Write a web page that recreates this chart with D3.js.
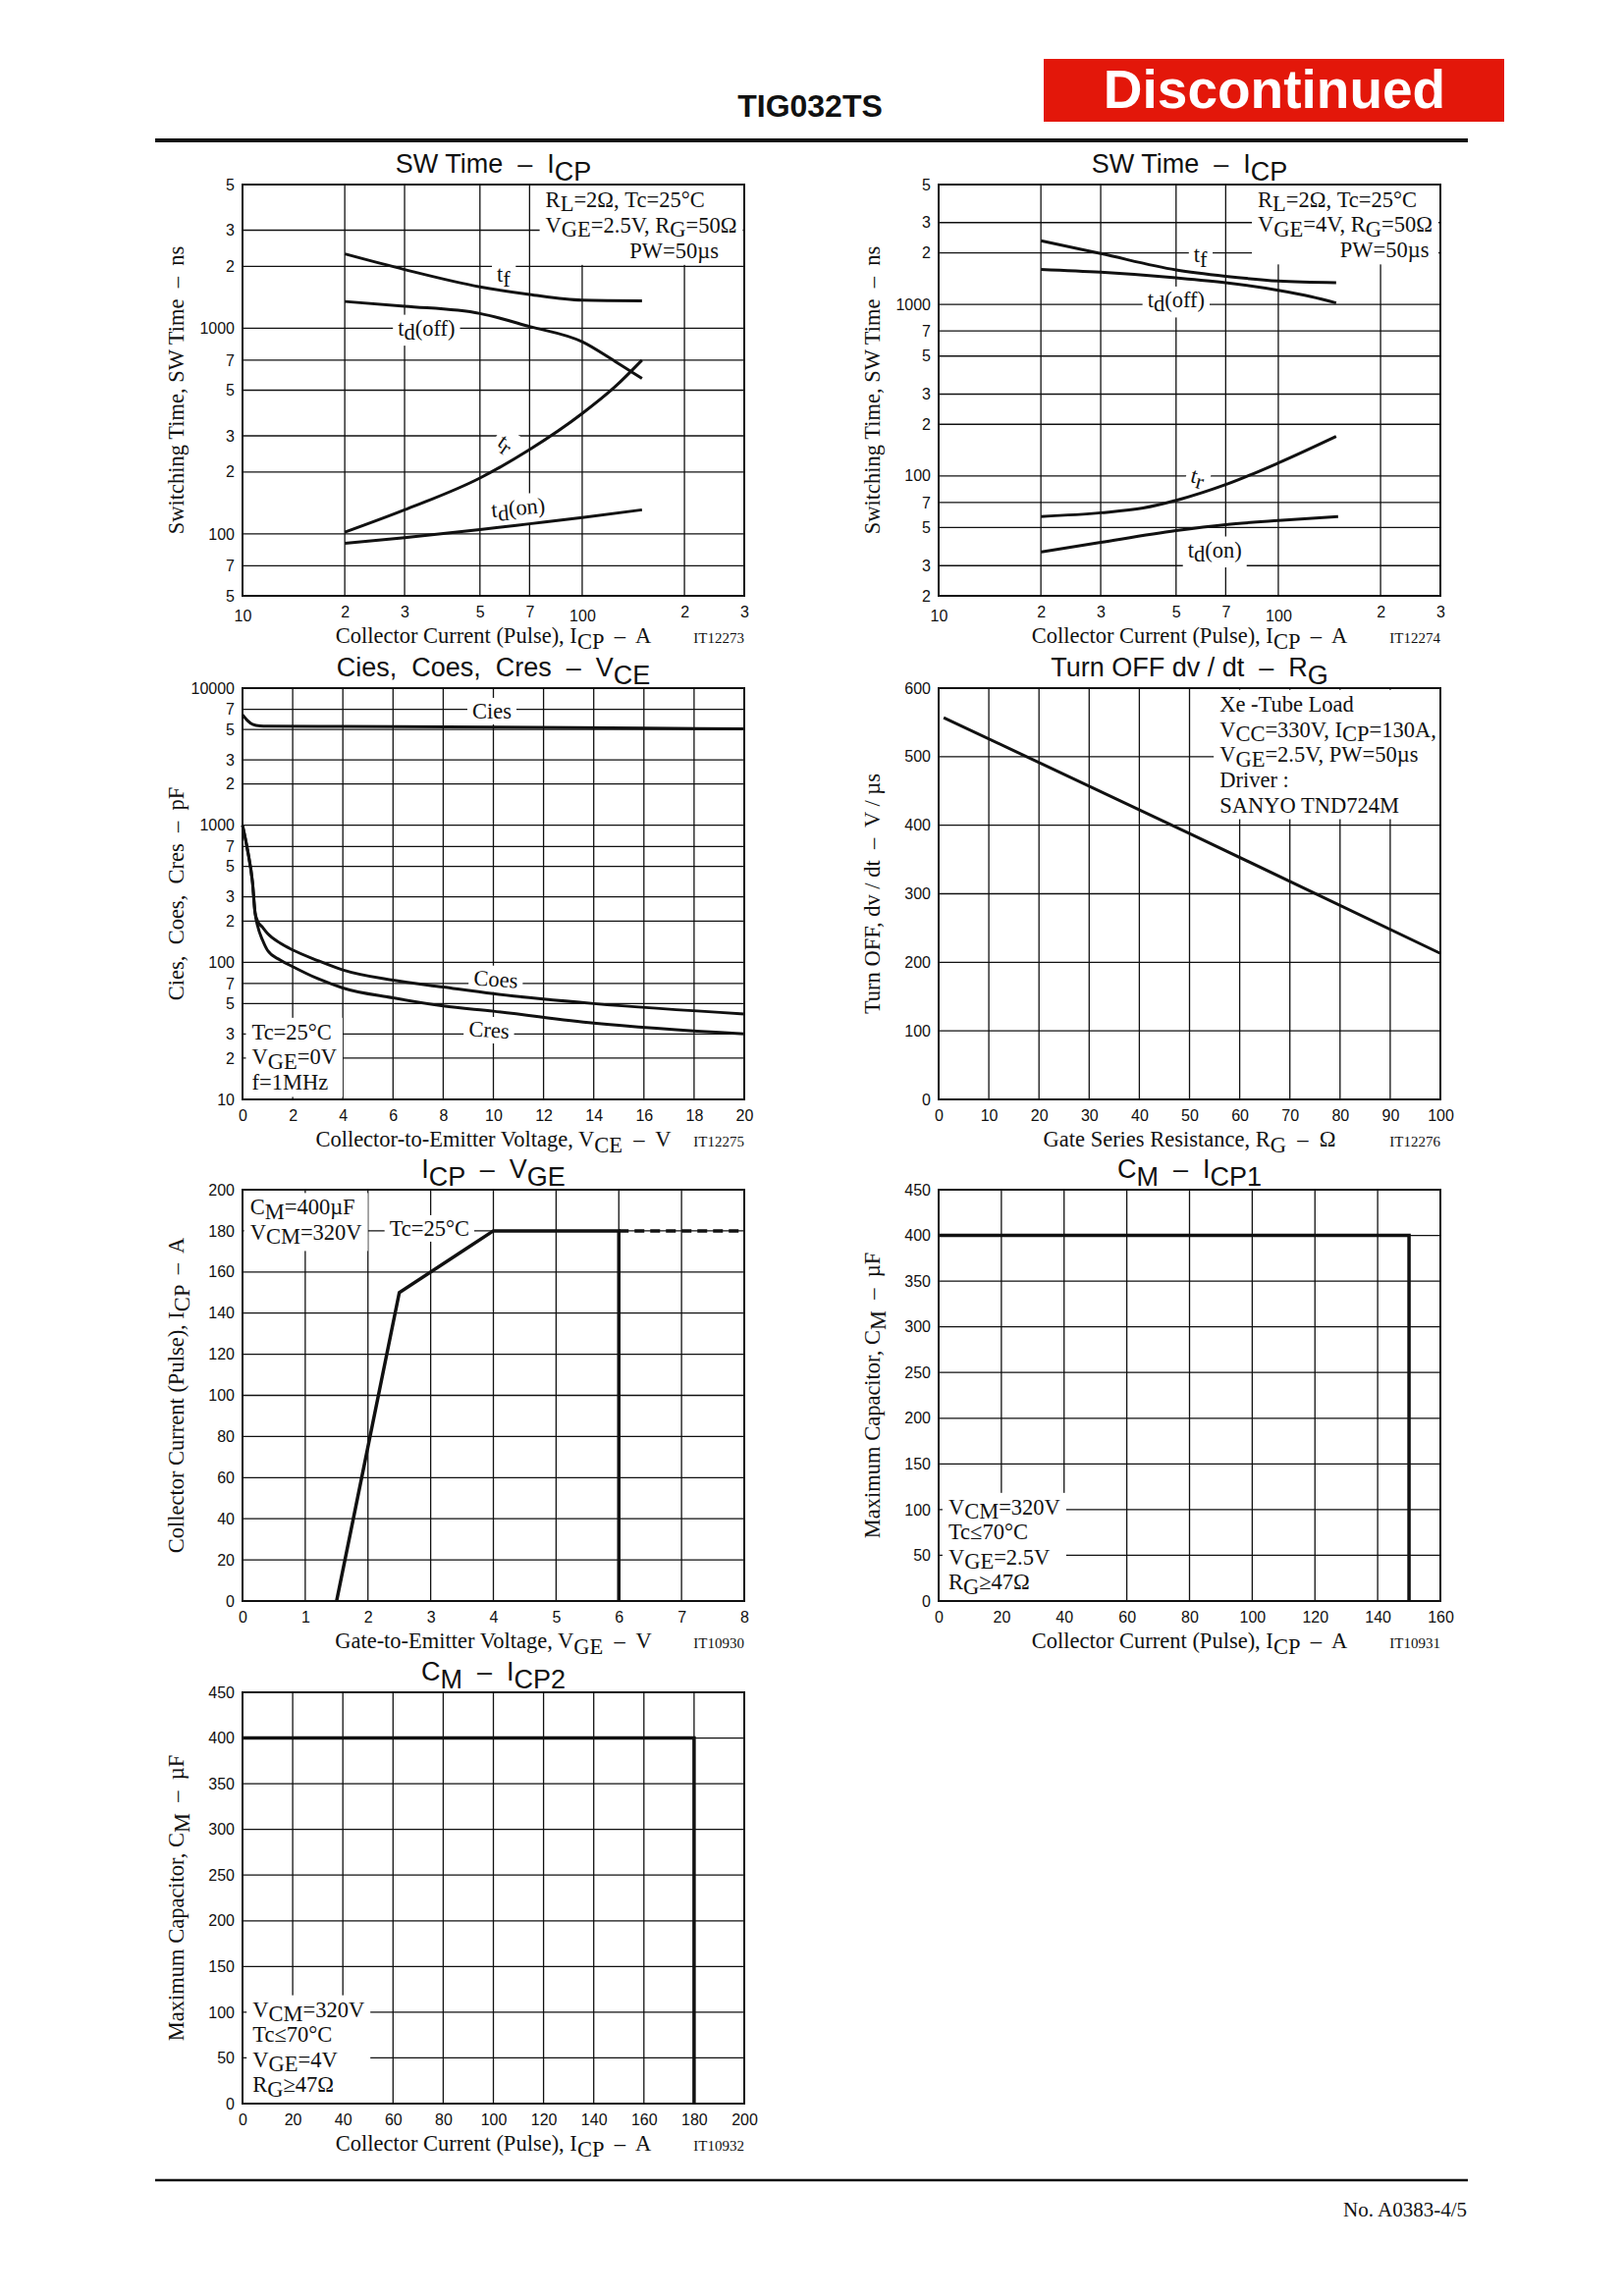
<!DOCTYPE html>
<html><head><meta charset="utf-8">
<script src="https://cdn.jsdelivr.net/npm/d3@7"></script>
<style>
body{margin:0;background:#fff;}
svg text{white-space:pre;}
</style></head><body>
<svg id="page" width="1653" height="2339" xmlns="http://www.w3.org/2000/svg"></svg>
<script>
// ---------------- DATA ----------------
// Chart 1: SW Time - ICP (VGE=2.5V)
const sw1_tf    = [[20,2300],[30,1930],[50,1590],[70,1460],[100,1370],[150,1360]];
const sw1_tdoff = [[20,1350],[30,1280],[50,1180],[70,1020],[100,860],[125,690],[150,570]];
const sw1_tr    = [[20,102],[30,131],[50,187],[70,257],[100,385],[125,520],[150,700]];
const sw1_tdon  = [[20,90],[30,96],[50,105],[70,112],[100,120],[150,131]];
// Chart 2: SW Time - ICP (VGE=4V)
const sw2_tf    = [[20,2350],[30,1980],[50,1590],[70,1460],[100,1370],[148,1340]];
const sw2_tdoff = [[20,1600],[30,1540],[50,1430],[70,1340],[100,1210],[125,1110],[148,1020]];
const sw2_tr    = [[20,58],[30,61],[40,65],[50,72],[70,89],[100,119],[148,170]];
const sw2_tdon  = [[20,36],[30,41],[50,48],[70,52],[100,55],[150,58]];
// Chart 3: Cies, Coes, Cres - VCE
const cies = [[0,6400],[0.2,5800],[0.4,5450],[0.7,5300],[1,5280],[4,5250],[10,5200],[16,5100],[20,5050]];
const coes = [[0,1000],[0.2,660],[0.4,380],[0.5,230],[0.6,200],[0.8,180],[1,162],[1.5,138],[2,123],[3,103],[4,88],[6,74],[8,66],[10,59],[14,50],[20,42]];
const cres = [[0,1000],[0.2,660],[0.4,380],[0.5,230],[0.6,185],[0.8,145],[1,122],[1.5,104],[2,93],[3,76],[4,65],[6,55],[8,48],[10,44],[14,36],[20,30]];
// Chart 4: Turn OFF dv/dt - RG
const dvdt = [[1,557],[50,388],[100,213]];
// Chart 5: ICP - VGE
const icpVge = [[1.5,0],[2.5,150],[4,180],[6,180],[6,0]];
const icpVgeDash = [[6,180],[8,180]];
// Chart 6 / 7: CM - ICP
const cmIcp1 = [[0,400],[150,400],[150,0]];
const cmIcp2 = [[0,400],[180,400],[180,0]];

// tick values / labels
const swXTicks = [10,20,30,50,70,100,200,300];
const swXLabels = ["10","2","3","5","7","100","2","3"];
const sw1YTicks = [5000,3000,2000,1000,700,500,300,200,100,70,50];
const sw1YLabels = ["5","3","2","1000","7","5","3","2","100","7","5"];
const sw2YTicks = [5000,3000,2000,1000,700,500,300,200,100,70,50,30,20];
const sw2YLabels = ["5","3","2","1000","7","5","3","2","100","7","5","3","2"];
const capXTicks = [0,2,4,6,8,10,12,14,16,18,20];
const capYTicks = [10000,7000,5000,3000,2000,1000,700,500,300,200,100,70,50,30,20,10];
const capYLabels = ["10000","7","5","3","2","1000","7","5","3","2","100","7","5","3","2","10"];
const dvXTicks = [0,10,20,30,40,50,60,70,80,90,100];
const dvYTicks = [0,100,200,300,400,500,600];
const vgeXTicks = [0,1,2,3,4,5,6,7,8];
const vgeYTicks = [0,20,40,60,80,100,120,140,160,180,200];
const cm1XTicks = [0,20,40,60,80,100,120,140,160];
const cm2XTicks = [0,20,40,60,80,100,120,140,160,180,200];
const cmYTicks = [0,50,100,150,200,250,300,350,400,450];

// ---------------- DRAWING ----------------
const svg = d3.select('#page');
const W = 511, H = 419;
const SANS = '"Liberation Sans", Arial, sans-serif';
const SERIF = '"Liberation Serif", "Times New Roman", serif';
const INK = '#111';

function rich(t, str, shift){
  const sh = shift || 0.25;
  const re = /_\{([^}]*)\}/g; let last = 0, m; const parts = [];
  while((m = re.exec(str))){ if(m.index > last) parts.push([str.slice(last, m.index), false]); parts.push([m[1], true]); last = re.lastIndex; }
  if(last < str.length) parts.push([str.slice(last), false]);
  let shifted = false;
  parts.forEach(([s, sub]) => {
    const ts = t.append('tspan').text(s);
    if(sub && !shifted){ ts.attr('dy', sh + 'em'); shifted = true; }
    else if(!sub && shifted){ ts.attr('dy', -sh + 'em'); shifted = false; }
  });
  return t;
}

// header
svg.append('text').attr('x',825).attr('y',119).attr('text-anchor','middle')
  .style('font',`bold 32px ${SANS}`).attr('fill',INK).text('TIG032TS');
svg.append('rect').attr('x',1063).attr('y',60).attr('width',469).attr('height',64).attr('fill','#e3170a');
svg.append('text').attr('x',1298).attr('y',110).attr('text-anchor','middle').attr('fill','#fff')
  .style('font',`bold 55px ${SANS}`).text('Discontinued');
svg.append('line').attr('x1',158).attr('x2',1495).attr('y1',143).attr('y2',143).attr('stroke',INK).attr('stroke-width',4);
// footer
svg.append('line').attr('x1',158).attr('x2',1495).attr('y1',2221).attr('y2',2221).attr('stroke',INK).attr('stroke-width',2.5);
svg.append('text').attr('x',1494).attr('y',2258).attr('text-anchor','end')
  .style('font',`21px ${SERIF}`).attr('fill',INK).text('No. A0383-4/5');

function chart(o){
  const g = svg.append('g');
  const L = o.left, T = o.top;
  const x = (o.xlog ? d3.scaleLog() : d3.scaleLinear()).domain(o.xd).range([L, L+W]);
  const y = (o.ylog ? d3.scaleLog() : d3.scaleLinear()).domain(o.yd).range([T+H, T]);
  const gGrid = g.append('g'), gBg = g.append('g'), gCurve = g.append('g'), gText = g.append('g'), gFrame = g.append('g');

  const xgrid = o.xticks.filter(d => d !== o.xd[0] && d !== o.xd[1]);
  const ygrid = o.yticks.filter(d => d !== o.yd[0] && d !== o.yd[1]);
  gGrid.selectAll('line.v').data(xgrid).join('line').attr('class','v')
    .attr('x1', d => x(d)).attr('x2', d => x(d)).attr('y1', T).attr('y2', T+H)
    .attr('stroke', INK).attr('stroke-width', 1.3);
  gGrid.selectAll('line.h').data(ygrid).join('line').attr('class','h')
    .attr('y1', d => y(d)).attr('y2', d => y(d)).attr('x1', L).attr('x2', L+W)
    .attr('stroke', INK).attr('stroke-width', 1.3);

  // axes
  const xl = o.xlab || o.xticks.map(String);
  const ax = d3.axisBottom(x).tickValues(o.xticks).tickFormat((d,i) => xl[i]).tickSize(0);
  const axg = g.append('g').attr('transform', `translate(0,${T+H})`).call(ax);
  axg.select('.domain').remove();
  axg.selectAll('text').attr('y', (d,i) => (o.xlog && xl[i].length > 1) ? 15 : 11).attr('dy','0.71em')
    .style('font', `16px ${SANS}`).attr('fill', INK);
  const yl = o.ylab || o.yticks.map(String);
  const ay = d3.axisLeft(y).tickValues(o.yticks).tickFormat((d,i) => yl[i]).tickSize(0).tickPadding(8);
  const ayg = g.append('g').attr('transform', `translate(${L},0)`).call(ay);
  ayg.select('.domain').remove();
  ayg.selectAll('text').style('font', `16px ${SANS}`).attr('fill', INK);

  // curves
  o.series.forEach(s => {
    gCurve.append('path').datum(s.data)
      .attr('d', d3.line().x(d => x(d[0])).y(d => y(d[1])).curve(s.curve || d3.curveMonotoneX))
      .attr('fill','none').attr('stroke', INK).attr('stroke-width', s.w || 3)
      .attr('stroke-linejoin','miter').attr('stroke-dasharray', s.dash || null);
  });

  // notes with white background; notes flagged as block share one background box
  const block = [];
  (o.notes || []).forEach(n => {
    const px = x(n.x), py = y(n.y);
    const tr = `translate(${px},${py}) rotate(${n.rot || 0})`;
    const t = gText.append('text').attr('transform', tr).attr('text-anchor', n.a || 'start')
      .style('font', `${n.size || 22.5}px ${SERIF}`).attr('fill', INK);
    if(n.mid) t.attr('dy','0.32em');
    rich(t, n.t, 0.2);
    const bb = t.node().getBBox();
    const pad = n.pad == null ? 5 : n.pad;
    if(n.b){
      block.push([px + bb.x, py + bb.y, px + bb.x + bb.width, py + bb.y + bb.height]);
    } else {
      gBg.append('rect').attr('transform', tr).attr('x', bb.x - pad).attr('y', bb.y - 1)
        .attr('width', bb.width + 2*pad).attr('height', bb.height + 2).attr('fill','#fff');
    }
  });
  if(block.length){
    const x0 = d3.min(block, d => d[0]) - 6, y0 = d3.min(block, d => d[1]) - 2;
    const x1 = d3.max(block, d => d[2]) + 6, y1 = d3.max(block, d => d[3]) + 2;
    gBg.append('rect').attr('x', x0).attr('y', y0).attr('width', x1 - x0).attr('height', y1 - y0).attr('fill','#fff');
  }

  gFrame.append('rect').attr('x', L).attr('y', T).attr('width', W).attr('height', H)
    .attr('fill','none').attr('stroke', INK).attr('stroke-width', 2);

  // titles and labels
  rich(g.append('text').attr('x', L + W/2).attr('y', T - 12).attr('text-anchor','middle')
    .style('font', `27px ${SANS}`).attr('fill', INK), o.title, 0.28);
  rich(g.append('text').attr('x', L + W/2).attr('y', T + H + 48).attr('text-anchor','middle')
    .style('font', `22.5px ${SERIF}`).attr('fill', INK), o.xtitle, 0.28);
  g.append('text').attr('x', L + W).attr('y', T + H + 48).attr('text-anchor','end')
    .style('font', `15px ${SERIF}`).attr('fill', INK).text(o.code);
  rich(g.append('text').attr('transform', `translate(${L - 68},${T + H/2}) rotate(-90)`).attr('dy','0.35em')
    .attr('text-anchor','middle').style('font', `22.5px ${SERIF}`).attr('fill', INK), o.ytitle, 0.28);
}

const LC = 247, RC = 956;
const R1 = 188, R2 = 701, R3 = 1212, R4 = 1724;

chart({left:LC, top:R1, xlog:true, ylog:true, xd:[10,300], yd:[50,5000],
  xticks:swXTicks, xlab:swXLabels, yticks:sw1YTicks, ylab:sw1YLabels,
  title:'SW Time  –  I_{CP}', xtitle:'Collector Current (Pulse), I_{CP}  –  A', ytitle:'Switching Time, SW Time  –  ns', code:'IT12273',
  series:[{data:sw1_tf},{data:sw1_tdoff},{data:sw1_tr},{data:sw1_tdon}],
  notes:[
    {x:78,y:3900,t:'R_{L}=2Ω, Tc=25°C',b:1},
    {x:78,y:2930,t:'V_{GE}=2.5V, R_{G}=50Ω',b:1},
    {x:138,y:2196,t:'PW=50µs',b:1},
    {x:58.7,y:1820,t:'t_{f}',a:'middle',mid:1},
    {x:34.8,y:1000,t:'t_{d}(off)',a:'middle',mid:1},
    {x:59.6,y:277,t:'t_{r}',a:'middle',mid:1,rot:35},
    {x:64.8,y:134,t:'t_{d}(on)',a:'middle',mid:1,rot:-5}
  ]});

chart({left:RC, top:R1, xlog:true, ylog:true, xd:[10,300], yd:[20,5000],
  xticks:swXTicks, xlab:swXLabels, yticks:sw2YTicks, ylab:sw2YLabels,
  title:'SW Time  –  I_{CP}', xtitle:'Collector Current (Pulse), I_{CP}  –  A', ytitle:'Switching Time, SW Time  –  ns', code:'IT12274',
  series:[{data:sw2_tf},{data:sw2_tdoff},{data:sw2_tr},{data:sw2_tdon}],
  notes:[
    {x:87,y:3705,t:'R_{L}=2Ω, Tc=25°C',b:1},
    {x:87,y:2650,t:'V_{GE}=4V, R_{G}=50Ω',b:1},
    {x:152,y:1877,t:'PW=50µs',b:1},
    {x:59,y:1937,t:'t_{f}',a:'middle',mid:1},
    {x:50,y:1060,t:'t_{d}(off)',a:'middle',mid:1},
    {x:58,y:99,t:'t_{r}',a:'middle',mid:1,rot:15},
    {x:65,y:37,t:'t_{d}(on)',a:'middle',mid:1}
  ]});

chart({left:LC, top:R2, xlog:false, ylog:true, xd:[0,20], yd:[10,10000],
  xticks:capXTicks, yticks:capYTicks, ylab:capYLabels,
  title:'Cies,  Coes,  Cres  –  V_{CE}', xtitle:'Collector-to-Emitter Voltage, V_{CE}  –  V', ytitle:'Cies,  Coes,  Cres  –  pF', code:'IT12275',
  series:[{data:cies},{data:coes},{data:cres}],
  notes:[
    {x:9.94,y:6760,t:'Cies',a:'middle',mid:1},
    {x:10.1,y:75,t:'Coes',a:'middle',mid:1,rot:4},
    {x:9.83,y:32,t:'Cres',a:'middle',mid:1,rot:4},
    {x:0.37,y:27.4,t:'Tc=25°C',b:1},
    {x:0.37,y:18,t:'V_{GE}=0V',b:1},
    {x:0.37,y:11.7,t:'f=1MHz',b:1}
  ]});

chart({left:RC, top:R2, xlog:false, ylog:false, xd:[0,100], yd:[0,600],
  xticks:dvXTicks, yticks:dvYTicks,
  title:'Turn OFF dv / dt  –  R_{G}', xtitle:'Gate Series Resistance, R_{G}  –  Ω', ytitle:'Turn OFF, dv / dt  –  V / µs', code:'IT12276',
  series:[{data:dvdt, curve:d3.curveLinear}],
  notes:[
    {x:56,y:566,t:'Xe -Tube Load',b:1},
    {x:56,y:528.6,t:'V_{CC}=330V, I_{CP}=130A,',b:1},
    {x:56,y:492.6,t:'V_{GE}=2.5V, PW=50µs',b:1},
    {x:56,y:455.7,t:'Driver :',b:1},
    {x:56,y:418.8,t:'SANYO TND724M',b:1}
  ]});

chart({left:LC, top:R3, xlog:false, ylog:false, xd:[0,8], yd:[0,200],
  xticks:vgeXTicks, yticks:vgeYTicks,
  title:'I_{CP}  –  V_{GE}', xtitle:'Gate-to-Emitter Voltage, V_{GE}  –  V', ytitle:'Collector Current (Pulse), I_{CP}  –  A', code:'IT10930',
  series:[{data:icpVge, curve:d3.curveLinear, w:3.5},{data:icpVgeDash, curve:d3.curveLinear, w:3.5, dash:'10,6'}],
  notes:[
    {x:0.12,y:187.9,t:'C_{M}=400µF',b:1},
    {x:0.12,y:175.7,t:'V_{CM}=320V',b:1},
    {x:2.98,y:177.6,t:'Tc=25°C',a:'middle'}
  ]});

chart({left:RC, top:R3, xlog:false, ylog:false, xd:[0,160], yd:[0,450],
  xticks:cm1XTicks, yticks:cmYTicks,
  title:'C_{M}  –  I_{CP1}', xtitle:'Collector Current (Pulse), I_{CP}  –  A', ytitle:'Maximum Capacitor, C_{M}  –  µF', code:'IT10931',
  series:[{data:cmIcp1, curve:d3.curveLinear, w:3.5}],
  notes:[
    {x:3.1,y:94.7,t:'V_{CM}=320V',b:1},
    {x:3.1,y:67.4,t:'Tc≤70°C',b:1},
    {x:3.1,y:40,t:'V_{GE}=2.5V',b:1},
    {x:3.1,y:12.8,t:'R_{G}≥47Ω',b:1}
  ]});

chart({left:LC, top:R4, xlog:false, ylog:false, xd:[0,200], yd:[0,450],
  xticks:cm2XTicks, yticks:cmYTicks,
  title:'C_{M}  –  I_{CP2}', xtitle:'Collector Current (Pulse), I_{CP}  –  A', ytitle:'Maximum Capacitor, C_{M}  –  µF', code:'IT10932',
  series:[{data:cmIcp2, curve:d3.curveLinear, w:3.5}],
  notes:[
    {x:4,y:94.9,t:'V_{CM}=320V',b:1},
    {x:4,y:67.5,t:'Tc≤70°C',b:1},
    {x:4,y:40,t:'V_{GE}=4V',b:1},
    {x:4,y:12.8,t:'R_{G}≥47Ω',b:1}
  ]});
</script>
</body></html>
